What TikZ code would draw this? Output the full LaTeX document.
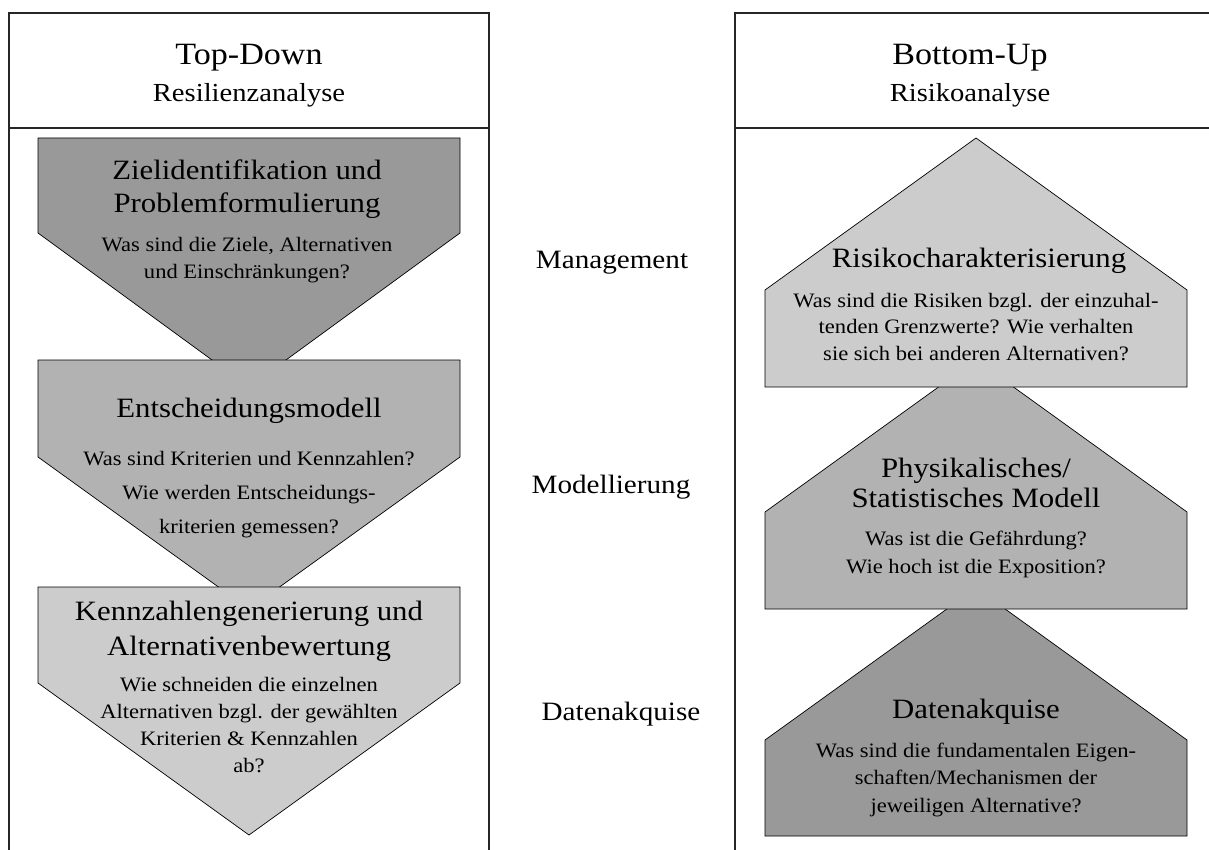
\documentclass[tikz,border=0pt]{standalone}
\usepackage{fontspec}
\setmainfont{Liberation Serif}[FakeStretch=1.1]
\begin{document}
\begin{tikzpicture}[x=1pt,y=-1pt,
  panel/.style={draw=black!85,line width=1.1pt},
  stepshape/.style={draw=black,line width=0.7pt},
  head/.style={anchor=base,font=\fontsize{31}{36}\selectfont},
  subhead/.style={anchor=base,font=\fontsize{26}{30}\selectfont},
  title/.style={anchor=base,align=center,font=\fontsize{28}{33}\selectfont},
  body/.style={anchor=base,align=center,font=\fontsize{20.5}{26.5}\selectfont},
  level/.style={anchor=base,font=\fontsize{26.5}{30}\selectfont}]
\useasboundingbox (0,0) rectangle (1209,850);

% frames of the two columns
\draw[panel] (9,850) -- (9,13) -- (489,13) -- (489,850);
\draw[panel] (9,128) -- (489,128);
\draw[panel] (735,850) -- (735,13) -- (1215,13);
\draw[panel] (735,128) -- (1215,128);

\node[head] (td) at (249,65) {Top-Down};
\node[subhead] (ra) at (249,102) {Resilienzanalyse};
\node[head] (bu) at (970,65) {Bottom-Up};
\node[subhead] (rk) at (970,102) {Risikoanalyse};

% top-down chevrons (multi-line texts are placed by their last baseline)
\filldraw[stepshape,fill=black!40] (38,138) -- (460,138) -- (460,233) -- (249,387) -- (38,233) -- cycle;
\node[title] (l1t) at (247,213) {Zielidentifikation und\\Problemformulierung};
\node[body] (l1b) at (247,278) {Was sind die Ziele, Alternativen\\und Einschränkungen?};

\filldraw[stepshape,fill=black!30] (38,360) -- (460,360) -- (460,457) -- (249,609) -- (38,457) -- cycle;
\node[title] (l2t) at (249,417) {Entscheidungsmodell};
\node[body,font=\fontsize{20.5}{34}\selectfont] (l2b) at (249,533) {Was sind Kriterien und Kennzahlen?\\Wie werden Entscheidungs-\\kriterien gemessen?};

\filldraw[stepshape,fill=black!20] (38,587) -- (460,587) -- (460,683) -- (249,835) -- (38,683) -- cycle;
\node[title,font=\fontsize{28}{35}\selectfont] (l3t) at (249,655) {Kennzahlengenerierung und\\Alternativenbewertung};
\node[body,font=\fontsize{20.5}{27}\selectfont] (l3b) at (249,772) {Wie schneiden die einzelnen\\Alternativen bzgl. der gewählten\\Kriterien \& Kennzahlen\\ab?};

% bottom-up houses
\filldraw[stepshape,fill=black!40] (976,588) -- (1187,740) -- (1187,836) -- (765,836) -- (765,740) -- cycle;
\node[title] (r3t) at (976,718) {Datenakquise};
\node[body,font=\fontsize{20.5}{27.5}\selectfont] (r3b) at (976,812) {Was sind die fundamentalen Eigen-\\schaften/Mechanismen der\\jeweiligen Alternative?};

\filldraw[stepshape,fill=black!30] (976,360) -- (1187,512) -- (1187,609) -- (765,609) -- (765,512) -- cycle;
\node[title,font=\fontsize{28}{30}\selectfont] (r2t) at (976,507) {Physikalisches/\\Statistisches Modell};
\node[body,font=\fontsize{20.5}{28}\selectfont] (r2b) at (976,573) {Was ist die Gefährdung?\\Wie hoch ist die Exposition?};

\filldraw[stepshape,fill=black!20] (976,138) -- (1187,290) -- (1187,387) -- (765,387) -- (765,290) -- cycle;
\node[title] (r1t) at (979,268) {Risikocharakterisierung};
\node[body] (r1b) at (976,360) {Was sind die Risiken bzgl. der einzuhal-\\tenden Grenzwerte? Wie verhalten\\sie sich bei anderen Alternativen?};

% level labels between the columns
\node[level] (mg) at (612,269) {Management};
\node[level] (md) at (611,493) {Modellierung};
\node[level] (da) at (621,720) {Datenakquise};
\end{tikzpicture}
\end{document}
